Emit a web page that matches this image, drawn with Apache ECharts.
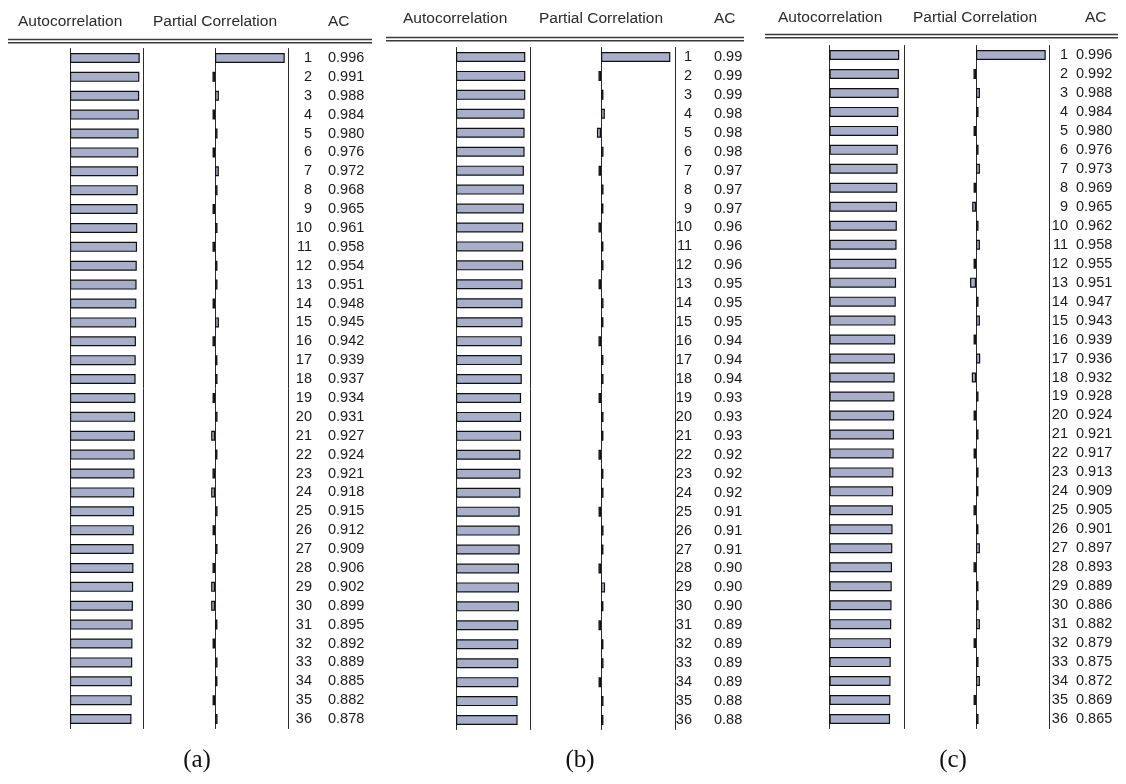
<!DOCTYPE html>
<html>
<head>
<meta charset="utf-8">
<title>Correlograms</title>
<script src="https://cdn.jsdelivr.net/npm/echarts@6/dist/echarts.min.js"></script>
<style>
  html, body { margin: 0; padding: 0; background: #fff; }
  #chart { width: 1126px; height: 784px; }
</style>
</head>
<body>
<div id="chart"></div>
<script>
// Lags shown in every correlogram
const lags = [1, 2, 3, 4, 5, 6, 7, 8, 9, 10, 11, 12, 13, 14, 15, 16, 17, 18,
              19, 20, 21, 22, 23, 24, 25, 26, 27, 28, 29, 30, 31, 32, 33, 34, 35, 36];

// (a) autocorrelation and partial autocorrelation
const acA = [0.996, 0.991, 0.988, 0.984, 0.980, 0.976, 0.972, 0.968, 0.965, 0.961, 0.958, 0.954,
             0.951, 0.948, 0.945, 0.942, 0.939, 0.937, 0.934, 0.931, 0.927, 0.924, 0.921, 0.918,
             0.915, 0.912, 0.909, 0.906, 0.902, 0.899, 0.895, 0.892, 0.889, 0.885, 0.882, 0.878];
const pacA = [0.996, -0.036, 0.056, -0.035, 0.036, -0.035, 0.055, 0.036, -0.035, 0.036, -0.036, 0.035,
              0.036, -0.035, 0.056, -0.036, 0.035, 0.036, -0.035, 0.036, -0.055, 0.035, -0.036, -0.055,
              0.036, -0.035, 0.036, -0.036, -0.055, -0.055, 0.035, -0.035, 0.036, 0.035, -0.035, 0.036];

// (b)
const acB = [0.99, 0.99, 0.99, 0.98, 0.98, 0.98, 0.97, 0.97, 0.97, 0.96, 0.96, 0.96,
             0.95, 0.95, 0.95, 0.94, 0.94, 0.94, 0.93, 0.93, 0.93, 0.92, 0.92, 0.92,
             0.91, 0.91, 0.91, 0.90, 0.90, 0.90, 0.89, 0.89, 0.89, 0.89, 0.88, 0.88];
const pacB = [0.99, -0.036, 0.035, 0.055, -0.058, 0.036, -0.035, 0.036, 0.035, -0.036, 0.035, 0.036,
              -0.035, 0.036, 0.035, -0.036, 0.035, 0.036, -0.035, 0.036, 0.035, -0.036, 0.035, 0.036,
              -0.035, 0.036, 0.035, -0.036, 0.058, 0.035, -0.036, 0.035, 0.036, -0.035, 0.036, 0.035];

// (c)
const acC = [0.996, 0.992, 0.988, 0.984, 0.980, 0.976, 0.973, 0.969, 0.965, 0.962, 0.958, 0.955,
             0.951, 0.947, 0.943, 0.939, 0.936, 0.932, 0.928, 0.924, 0.921, 0.917, 0.913, 0.909,
             0.905, 0.901, 0.897, 0.893, 0.889, 0.886, 0.882, 0.879, 0.875, 0.872, 0.869, 0.865];
const pacC = [0.996, -0.036, 0.056, 0.036, -0.035, 0.036, 0.056, -0.035, -0.055, 0.036, 0.056, -0.035,
              -0.085, 0.036, 0.056, -0.035, 0.06, -0.06, 0.036, -0.035, 0.036, -0.035, 0.036, 0.035,
              -0.036, 0.035, 0.056, -0.036, 0.035, 0.036, 0.056, -0.035, 0.036, 0.056, -0.035, 0.036];

const headerTexts = ['Autocorrelation', 'Partial Correlation', 'AC'];
const panelNames = ['(a)', '(b)', '(c)'];

// Screen layout of the three correlogram panels (pixels)
const panels = [
  { ac: acA, pac: pacA, dec: 3, top: 48.5, bottom: 728.5,
    acfZero: 70, acfLine: 143.5, pacfZero: 215, pacfLine: 288.5,
    lagRight: 312, valLeft: 328, headY: 22, headX: [18, 153, 328],
    ruleX: [8, 372], ruleY: 39.5, capX: 197 },
  { ac: acB, pac: pacB, dec: 2, top: 47.5, bottom: 729.5,
    acfZero: 456, acfLine: 530, pacfZero: 601, pacfLine: 675,
    lagRight: 692, valLeft: 714, headY: 19, headX: [403, 539, 714],
    ruleX: [386, 744], ruleY: 37.5, capX: 580 },
  { ac: acC, pac: pacC, dec: 3, top: 45.5, bottom: 728.5,
    acfZero: 829.5, acfLine: 904, pacfZero: 976, pacfLine: 1049.5,
    lagRight: 1068, valLeft: 1076, headY: 18, headX: [778, 913, 1085],
    ruleX: [765, 1118], ruleY: 34.5, capX: 953 }
];

const PX_PER_UNIT = 70;   // bar length of a correlation of 1
const NEG_ROOM = 20;      // space left of the PACF zero line
const LINE = '#2b2b2b';
const BAR_FILL = '#a9afcb';
const BAR_EDGE = '#111111';
const NUM_FONT = 14.5;
const numLabel = { show: true, interval: 0, fontSize: NUM_FONT,
                   fontFamily: 'Liberation Sans', color: '#1a1a1a' };

const grid = [], xAxis = [], yAxis = [], series = [], graphic = [];

panels.forEach((p, i) => {
  const h = p.bottom - p.top;
  const gA = 2 * i, gP = 2 * i + 1;

  // autocorrelation block
  grid.push({ left: p.acfZero, top: p.top, width: p.acfLine - p.acfZero, height: h, show: false });
  xAxis.push({ gridIndex: gA, type: 'value', min: 0, max: (p.acfLine - p.acfZero) / PX_PER_UNIT, show: false });
  // partial correlation block
  grid.push({ left: p.pacfZero - NEG_ROOM, top: p.top, width: p.pacfLine - p.pacfZero + NEG_ROOM, height: h, show: false });
  xAxis.push({ gridIndex: gP, type: 'value', min: -NEG_ROOM / PX_PER_UNIT,
               max: (p.pacfLine - p.pacfZero) / PX_PER_UNIT, show: false });

  const catAxis = (gi, pos, onZero, lineShown, label) => ({
    gridIndex: gi, type: 'category', data: lags, inverse: true, position: pos,
    axisLine: { show: lineShown, onZero: onZero, lineStyle: { color: LINE, width: 1 } },
    axisTick: { show: false }, splitLine: { show: false },
    axisLabel: label || { show: false }
  });

  const yAcf = yAxis.length;
  yAxis.push(catAxis(gA, 'left', true, true));
  yAxis.push(catAxis(gA, 'right', false, true));
  const yPacf = yAxis.length;
  yAxis.push(catAxis(gP, 'left', true, true));
  // right border of the partial-correlation block, carrying the lag numbers
  yAxis.push(catAxis(gP, 'right', false, true,
    Object.assign({}, numLabel, { align: 'right', margin: p.lagRight - p.pacfLine })));
  // AC value column
  yAxis.push(catAxis(gP, 'right', false, false,
    Object.assign({}, numLabel, { align: 'left', margin: p.valLeft - p.pacfLine,
      formatter: (val, idx) => p.ac[idx].toFixed(p.dec) })));

  const barStyle = { color: BAR_FILL, borderColor: BAR_EDGE, borderWidth: 1.2 };
  series.push({ type: 'bar', xAxisIndex: gA, yAxisIndex: yAcf, data: p.ac,
                barWidth: 10, itemStyle: barStyle, silent: true });
  series.push({ type: 'bar', xAxisIndex: gP, yAxisIndex: yPacf, data: p.pac,
                barWidth: 10, itemStyle: barStyle, silent: true });

  // column headers
  headerTexts.forEach((t, k) => {
    graphic.push({ type: 'text', silent: true,
      style: { text: t, x: p.headX[k], y: p.headY, fill: '#2a2a2a',
               font: '15.5px "Liberation Sans"', verticalAlign: 'middle' } });
  });
  // double rule under the headers
  [0, 3.2].forEach(dy => {
    graphic.push({ type: 'line', silent: true,
      shape: { x1: p.ruleX[0], y1: p.ruleY + dy, x2: p.ruleX[1], y2: p.ruleY + dy },
      style: { stroke: '#3a3a3a', lineWidth: 1.4 } });
  });
  // panel caption
  graphic.push({ type: 'text', silent: true,
    style: { text: panelNames[i], x: p.capX, y: 760, fill: '#111',
             font: '25px "Liberation Serif"', align: 'center', verticalAlign: 'middle' } });
});

const chart = echarts.init(document.getElementById('chart'), null, { renderer: 'canvas' });
chart.setOption({
  animation: false,
  backgroundColor: '#ffffff',
  grid, xAxis, yAxis, series, graphic
});
</script>
</body>
</html>
